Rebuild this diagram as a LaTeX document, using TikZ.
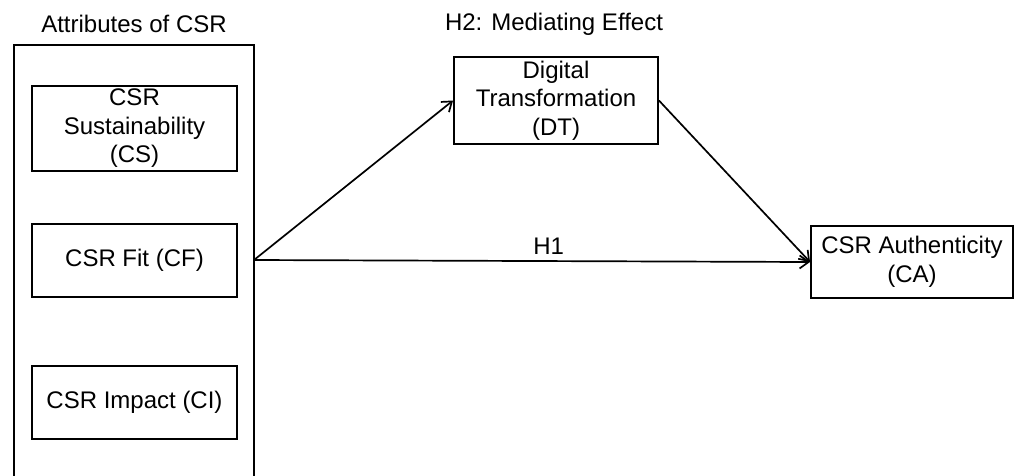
\documentclass[tikz,border=0pt]{standalone}
\usepackage{fontspec}
\setmainfont{Liberation Sans}
\usetikzlibrary{positioning, shapes, arrows.meta}

\begin{document}
\begin{tikzpicture}[x=1pt, y=-1pt,
        every node/.style={font=\fontsize{24}{28.5}\selectfont},
        attrbox/.style={draw, line width=1.9pt, align=center, inner sep=0pt, minimum width=205pt},
        varbox/.style={draw, line width=1.9pt, align=center, inner sep=0pt},
        link/.style={line width=1.7pt, -{Straight Barb[length=9pt, width=13pt]}}]
        \useasboundingbox (0,0) rectangle (1017,475);

        % group of attributes
        \node[draw, line width=1.9pt, minimum width=240pt, minimum height=470pt] (attrs) at (134,280) {};
        \node (attrtitle) at (134,24) {Attributes of CSR};
        \node[attrbox, minimum height=85pt] (cs) at (134.5,128.5) {CSR\\Sustainability\\(CS)};
        \node[attrbox, minimum height=73pt] (cf) at (134.5,260.5) {CSR Fit (CF)};
        \node[attrbox, minimum height=73pt] (ci) at (134.5,402.5) {CSR Impact (CI)};
        \coordinate (src) at (254,260);

        % mediator and outcome
        \node (medtitle) at (554,24) {H2: Mediating Effect};
        \node[varbox, minimum width=204pt, minimum height=87pt] (dt) at (556,100.5) {Digital\\Transformation\\(DT)};
        \node[varbox, minimum width=202pt, minimum height=72pt] (ca) at (912,262) {CSR Authenticity\\(CA)};

        \draw[link] (src) -- (dt.west);
        \draw[link] (dt.east) -- (ca.west);
        \draw[link] (src) -- (ca.west) node[pos=0.53, above=2pt] (h1) {H1};
    \end{tikzpicture}
\end{document}
